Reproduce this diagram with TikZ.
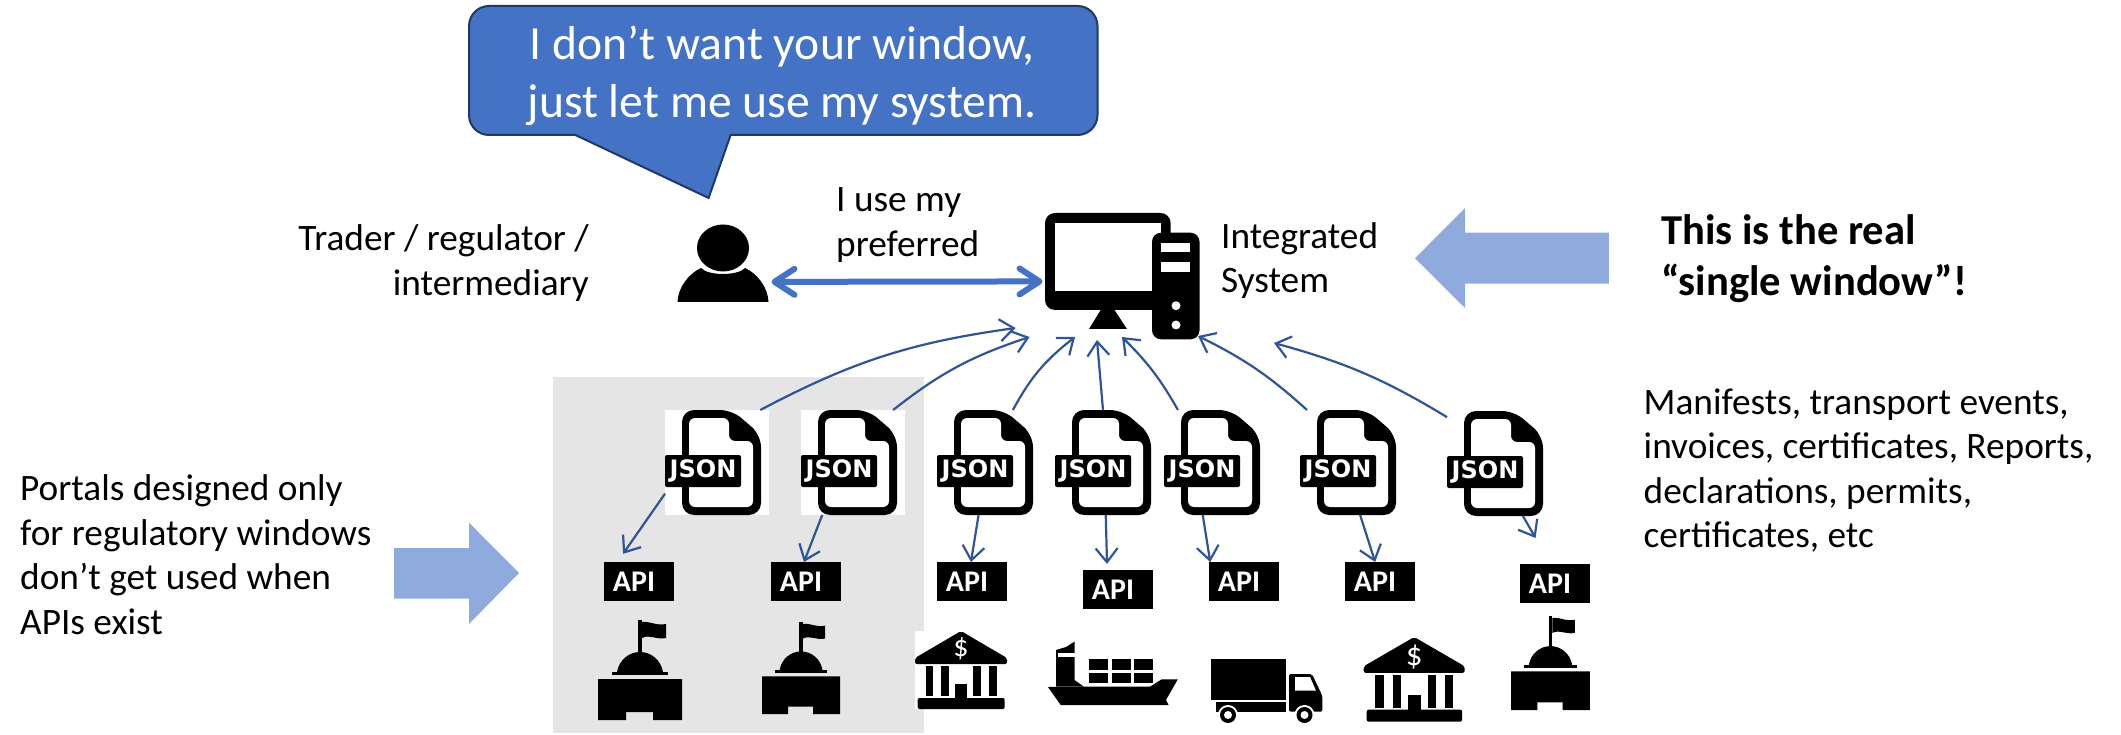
\documentclass[tikz,border=0pt]{standalone}
\usepackage{fontspec}
\setmainfont{Carlito}
\newfontfamily\jsonfont{DejaVu Sans}
\usetikzlibrary{arrows.meta,bending}
\definecolor{bubbleblue}{HTML}{4472C4}
\definecolor{bubbleline}{HTML}{1F3864}
\definecolor{flowblue}{HTML}{2F5597}
\definecolor{blockblue}{HTML}{8FAADC}
\definecolor{portalgray}{HTML}{E5E5E5}
\tikzset{
  bodytext/.style={align=left,inner sep=0pt,font=\fontsize{37.3}{44.5}\selectfont},
  boldtext/.style={align=left,inner sep=0pt,font=\fontsize{42.6}{51}\selectfont\bfseries},
  filebox/.style={minimum width=96pt,minimum height=105pt,inner sep=0pt,outer sep=0pt},
  jsonlabel/.style={fill=black,text=white,rounded corners=2pt,minimum width=76pt,minimum height=32pt,inner sep=0pt,font=\jsonfont\bfseries\fontsize{24}{24}\selectfont},
  apibox/.style={fill=black,text=white,minimum width=70pt,minimum height=39pt,inner sep=0pt,outer sep=0pt,font=\fontsize{30}{30}\selectfont\bfseries},
  flowarrow/.style={draw=flowblue,line width=2.2pt,-{Straight Barb[length=14pt,width=22pt]}},
}
\newcommand{\jsonfile}[3]{%
  \begin{scope}[shift={(#2,#3)}]
    \node[filebox] (#1) at (48,52.5) {};
    \fill[rounded corners=12pt] (17,0) -- (67,0) -- (96,25) -- (96,105) -- (17,105) -- cycle;
    \fill[white,rounded corners=6pt] (24,8) -- (64,8) -- (64,31) -- (88,31) -- (88,97) -- (24,97) -- cycle;
    \node[jsonlabel] (#1label) at (38,61) {JSON};
  \end{scope}}
\newcommand{\apibox}[3]{%
  \node[apibox] (#1) at (#2,#3) {\hspace*{-10pt}API};}
\newcommand{\govicon}[5]{%
  \begin{scope}[shift={(#2,#3)},xscale=#4,yscale=#5]
    \fill (40,0) rectangle (44,33);
    \fill (44,2) .. controls (52,1) and (58,6) .. (68,4) -- (68,18) .. controls (58,20) and (52,14) .. (44,18) -- cycle;
    \fill (19,52) .. controls (21,40) and (31,32) .. (42,32) .. controls (53,32) and (63,40) .. (65,52) -- cycle;
    \fill (14,52) rectangle (70,55);
    \fill (0,59) -- (84,59) -- (84,100) -- (55,100) -- (55,92) -- (28,92) -- (28,100) -- (0,100) -- cycle;
  \end{scope}}
\newcommand{\bankicon}[5]{%
  \begin{scope}[shift={(#2,#3)},xscale=#4,yscale=#5]
    \fill[white] (0,0) rectangle (92,78);
    \fill[rounded corners=2pt] (46,0) -- (92,27) -- (92,33) -- (0,33) -- (0,27) -- cycle;
    \fill[rounded corners=2pt] (2.7,67) rectangle (89.7,78);
    \fill (10.7,35) rectangle (18.3,65);
    \fill (26.3,35) rectangle (34,65);
    \fill (58.3,35) rectangle (66,65);
    \fill (74,35) rectangle (81.7,65);
    \fill (40,53) rectangle (52.3,67);
    \node[text=white,inner sep=0pt,transform shape,font=\fontsize{30}{30}\selectfont] (#1dollar) at (46,18) {\$};
  \end{scope}}
\begin{document}
\begin{tikzpicture}[x=1pt,y=-1pt]
  \useasboundingbox (0,0) rectangle (2121,735);
  \fill[portalgray] (553,377) rectangle (924,733);
  \draw[fill=bubbleblue,draw=bubbleline,line width=2pt] (575.4,135) -- (708.6,198) -- (730.6,135)
    [rounded corners=20pt] -- (1097.5,135) -- (1097.5,6) -- (469,6) -- (469,135) [sharp corners] -- cycle;
  \node[text=white,align=center,inner sep=0pt,font=\fontsize{47.6}{58}\selectfont,anchor=base] (bubble) at (782,118) {I don’t want your window,\\just let me use my system.};
  \node[bodytext,anchor=base east,align=right] (trader) at (589,295.5) {Trader / regulator /\\intermediary};
  \node[bodytext,anchor=base west] (prefer) at (836,256.5) {I use my\\preferred};
  \node[bodytext,anchor=base west] (integrated) at (1221,293) {Integrated\\System};
  \node[boldtext,anchor=base west] (real) at (1661,296) {This is the real\\“single window”!};
  \node[bodytext,anchor=base west] (docs) at (1643.5,547.7) {Manifests, transport events,\\invoices, certificates, Reports,\\declarations, permits,\\certificates, etc};
  \node[bodytext,anchor=base west] (portals) at (20,634) {Portals designed only\\for regulatory windows\\don’t get used when\\APIs exist};
  \fill[blockblue] (1415,258.3) -- (1465,208) -- (1465,232.7) -- (1608.8,232.7) -- (1608.8,283.7) -- (1465,283.7) -- (1465,308) -- cycle;
  \fill[blockblue] (519,573) -- (469,522.7) -- (469,548) -- (394,548) -- (394,598.7) -- (469,598.7) -- (469,624) -- cycle;
  \node[minimum width=91pt,minimum height=77pt,inner sep=0pt,outer sep=0pt] (user) at (723,263.5) {};
  \fill (723,248) ellipse (26pt and 23.5pt);
  \fill (677.5,302) .. controls (678,288) and (688,274) .. (701,268) .. controls (708,276) and (738,276) .. (745,268) .. controls (758,274) and (768,288) .. (768.5,302) -- cycle;
  \node[minimum width=155pt,minimum height=126pt,inner sep=0pt,outer sep=0pt] (sys) at (1122.5,276) {};
  \fill[rounded corners=10pt] (1045,213) rectangle (1170.6,310);
  \fill[white] (1054.5,222.7) rectangle (1161,291);
  \fill (1100.7,310) -- (1114.5,310) -- (1127,329) -- (1089,329) -- cycle;
  \fill[rounded corners=9pt] (1152,232.7) rectangle (1199.5,339.3);
  \fill[white] (1161,242.7) rectangle (1190,252.3);
  \fill[white] (1161,261.7) rectangle (1190,271.7);
  \fill[white] (1176,305.7) circle (4.5pt);
  \fill[white] (1176,325) circle (4.5pt);
  \fill[white] (665,410) rectangle (769,515);
  \fill[white] (801,410) rectangle (905,515);
  \jsonfile{json1}{665}{410}
  \jsonfile{json2}{801}{410}
  \jsonfile{json3}{937}{410}
  \jsonfile{json4}{1055}{410}
  \jsonfile{json5}{1164}{410}
  \jsonfile{json6}{1300}{410}
  \jsonfile{json7}{1447}{411}
  \apibox{api1}{639}{581.5}
  \apibox{api2}{806}{581.5}
  \apibox{api3}{972}{581.5}
  \apibox{api4}{1118}{589.5}
  \apibox{api5}{1244}{581.5}
  \apibox{api6}{1380}{581.5}
  \apibox{api7}{1555}{583.5}
  \govicon{gov1}{598}{620}{1}{1}
  \govicon{gov2}{762}{622}{0.93}{0.92}
  \govicon{gov3}{1511}{616}{0.94}{0.94}
  \bankicon{bank1}{915}{631}{1}{1}
  \bankicon{bank2}{1363.7}{637}{1.098}{1.085}
  \fill (1048,687) -- (1083.7,686.7) -- (1150,686.7) -- (1161.7,679.3) -- (1177.8,679.3) -- (1166,700) -- (1168.6,705) -- (1060.7,705) -- cycle;
  \fill (1056,680) -- (1056,650) -- (1066,647) -- (1074.5,641.7) -- (1074.5,680) -- (1084,686.7) -- (1056,686.7) -- cycle;
  \fill[white] (1058,652.7) rectangle (1079,656.7);
  \fill (1089,659) rectangle (1107.5,670);
  \fill (1112,659) rectangle (1130.5,670);
  \fill (1134,659) rectangle (1152.5,670);
  \fill (1089,673) rectangle (1107.5,683);
  \fill (1112,673) rectangle (1130.5,683);
  \fill (1134,673) rectangle (1152.5,683);
  \fill (1211,659) rectangle (1285.7,700);
  \fill (1216,701.7) rectangle (1285.7,711.7);
  \fill[rounded corners=2pt] (1289,674) -- (1312,674) -- (1322.4,696) -- (1322.4,711.7) -- (1289,711.7) -- cycle;
  \fill[white] (1295,677) -- (1310,677) -- (1316,690.7) -- (1295,690.7) -- cycle;
  \fill[white] (1228,715) circle (10pt);
  \fill[white] (1304.5,715) circle (10pt);
  \fill (1228,715) circle (8pt);
  \fill (1304.5,715) circle (8pt);
  \fill[white] (1228,715) circle (4pt);
  \fill[white] (1304.5,715) circle (4pt);
  \coordinate (sysin1) at (1015.6,328);
  \coordinate (sysin2) at (1029.5,337);
  \coordinate (sysin3) at (1075,337);
  \coordinate (sysin4) at (1097,340);
  \coordinate (sysin5) at (1122,337);
  \coordinate (sysin6) at (1198,336);
  \coordinate (sysin7) at (1274,343);
  \draw[{Straight Barb[length=20pt,width=26pt,round]}-{Straight Barb[length=20pt,width=26pt,round]},draw=bubbleblue,line width=6pt,shorten <=3pt,shorten >=2.5pt] (user.-22) -- (sys.184.4);
  \draw[flowarrow] (json1.48.2) to[bend left=10] (sysin1);
  \draw[flowarrow] (json2.50) to[bend left=10] (sysin2);
  \draw[flowarrow] (json3.62.8) to[bend left=12] (sysin3);
  \draw[flowarrow] (json4.90) to (sysin4);
  \draw[flowarrow] (json5.123.7) to[bend right=8] (sysin5);
  \draw[flowarrow] (json6.128.7) to[bend right=8] (sysin6);
  \draw[flowarrow] (json7.136) to[bend right=8] (sysin7);
  \draw[flowarrow,shorten >=10pt] (json1.213.3) to (api1.138);
  \draw[flowarrow] (json2.243.7) to (api2.96);
  \draw[flowarrow] (json3.263.5) to (api3.93);
  \draw[flowarrow,shorten >=6pt] (json4.273.3) to (api4.119.4);
  \draw[flowarrow] (json5.260.8) to (api5.150.2);
  \draw[flowarrow] (json6.283.4) to (api6.104.4);
  \draw[flowarrow,shorten >=30pt] (json7.298) to (api7.103.5);
\end{tikzpicture}
\end{document}
